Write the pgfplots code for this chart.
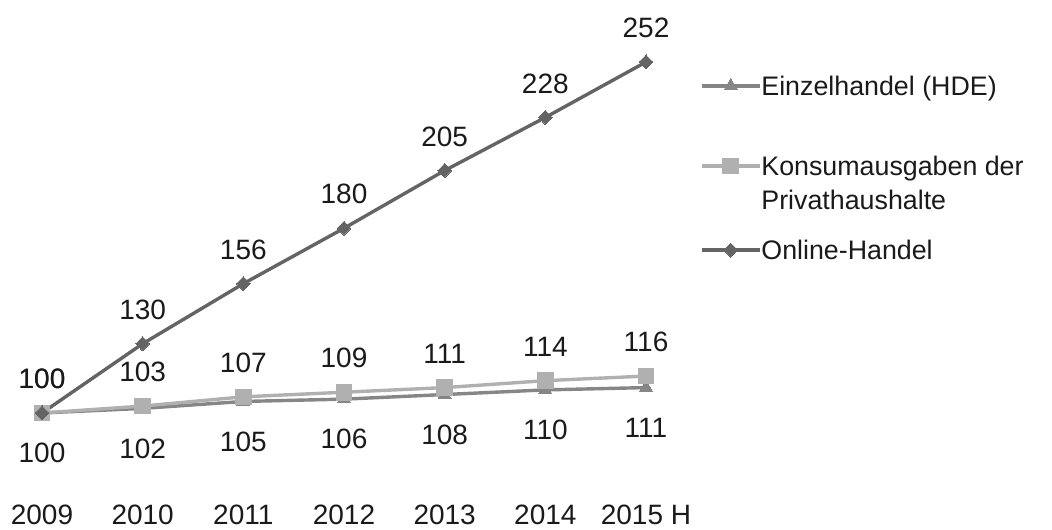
\documentclass[border=0pt]{standalone}
\usepackage{pgfplots}
\pgfplotsset{compat=1.18}
\usepackage{fontspec}
\setmainfont{Liberation Sans}
\definecolor{cE}{HTML}{868686}
\definecolor{cK}{HTML}{B0B0B0}
\definecolor{cO}{HTML}{646464}
\definecolor{txt}{HTML}{1A1A1A}
\begin{document}
\begin{tikzpicture}
\path[use as bounding box] (0,0) rectangle (526pt,264.5pt);
\begin{axis}[
 at={(21pt,58pt)}, anchor=south west,
 scale only axis, width=302pt, height=175.5pt,
 xmin=0, xmax=6, ymin=100, ymax=252,
 clip=false,
 axis line style={draw=none},
 ytick=\empty,
 xtick={0,...,6},
 xticklabels={2009,2010,2011,2012,2013,2014,2015 H},
 major tick length=0pt,
 /pgf/number format/assume math mode=true,
 xticklabel style={font=\fontsize{14}{16}\selectfont, text=txt, anchor=center, yshift=-51pt},
 legend style={draw=none, fill=none, at={(1.0894,1.111)}, anchor=north west,
   inner sep=0pt, outer sep=0pt, nodes={inner sep=0pt, outer sep=0pt},
   font=\fontsize{13.4}{17}\selectfont, text=txt, row sep=0pt, column sep=0pt},
 legend cell align=left,
 legend image code/.code={\draw[mark repeat=2,mark phase=2] plot coordinates {(0pt,0pt)(14.5pt,0pt)(29pt,0pt)};},
 every node near coord/.append style={font=\fontsize{14}{16}\selectfont, text=txt, anchor=center},
]
\addplot[cE, line width=1.7pt, mark=triangle*, mark size=3.8pt, mark options={solid, fill=cE, draw=cE, line width=0pt},
  nodes near coords, every node near coord/.append style={yshift=-20pt}]
  coordinates {(0,100) (1,102) (2,105) (3,106) (4,108) (5,110) (6,111)};
\addlegendentry[text height=36.3pt, text depth=26.7pt]{Einzelhandel (HDE)}
\addplot[cK, line width=1.7pt, mark=square*, mark size=3.9pt, mark options={solid, fill=cK, draw=cK, line width=0pt},
  nodes near coords, every node near coord/.append style={yshift=17pt}]
  coordinates {(0,100) (1,103) (2,107) (3,109) (4,111) (5,114) (6,116)};
\addlegendentry[text height=13.3pt, text depth=3.7pt]{Konsumausgaben der}
\addlegendimage{empty legend}
\addlegendentry[text height=13.3pt, text depth=3.7pt]{Privathaushalte}
\addplot[cO, line width=1.7pt, mark=diamond*, mark size=3.5pt, mark options={solid, fill=cO, draw=cO, line width=0pt, xscale=1.3},
  nodes near coords, every node near coord/.append style={yshift=17pt}]
  coordinates {(0,100) (1,130) (2,156) (3,180) (4,205) (5,228) (6,252)};
\addlegendentry[text height=21.3pt, text depth=11.7pt]{Online-Handel}
\end{axis}
\end{tikzpicture}
\end{document}
